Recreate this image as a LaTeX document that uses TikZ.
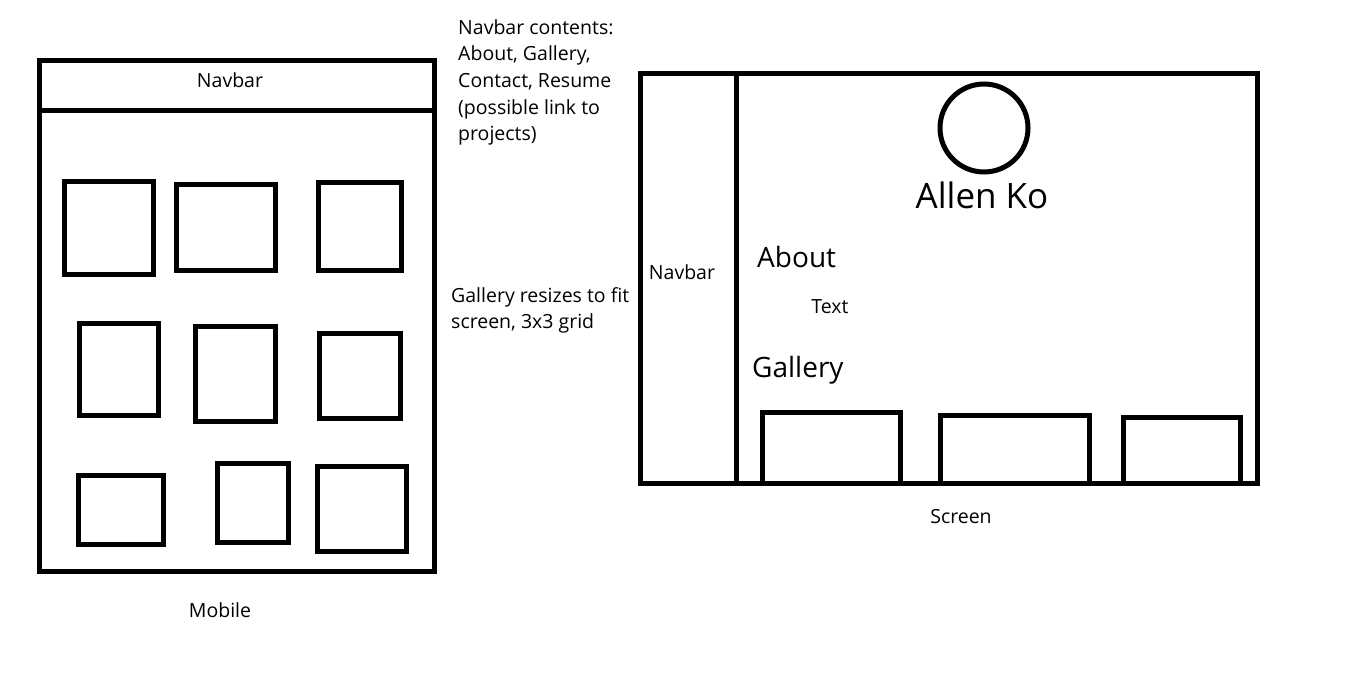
\documentclass[tikz,border=0pt]{standalone}
\usepackage{fontspec}
\setmainfont{Open Sans}
\usetikzlibrary{positioning}

\begin{document}
\begin{tikzpicture}[
    x=1pt, y=-1pt,
    frameBox/.style={draw=black, line width=5pt},
    tileBox/.style={draw=black, line width=5pt},
    noteNode/.style={inner sep=0pt, anchor=north west, align=left, font=\fontsize{19.5}{26.7}\selectfont},
    lblNode/.style={inner sep=0pt, anchor=base, font=\fontsize{19.5}{24}\selectfont},
    headNode/.style={inner sep=0pt, anchor=base west, font=\fontsize{28}{34}\selectfont},
    titleNode/.style={inner sep=0pt, anchor=base, font=\fontsize{35}{42}\selectfont}
]
\useasboundingbox (0,0) rectangle (1364,698);

% Mobile layout
\draw[frameBox] (39,61) rectangle (434,571);
\draw[frameBox] (39,111) -- (434,111);
\node[lblNode] (mNav) at (230,88) {Navbar};
\foreach \xa/\ya/\xb/\yb in {64/181/153/274, 176/184/275/270, 318/182/401/270,
    79/323/158/415, 195/326/275/421, 319/333/400/418,
    78/475/163/544, 217/463/288/542, 317/466/406/551}
    \draw[tileBox] (\xa,\ya) rectangle (\xb,\yb);
\node[lblNode] (mLabel) at (220,617) {Mobile};

% Notes
\node[noteNode] (navNote) at (458,19) {Navbar contents:\\About, Gallery,\\Contact, Resume\\(possible link to\\projects)};
\node[noteNode] (galNote) at (451,287) {Gallery resizes to fit\\screen, 3x3 grid};

% Screen layout
\draw[frameBox] (640,74) rectangle (1257,483);
\draw[frameBox] (736,74) -- (736,483);
\node[lblNode] (sNav) at (682,279) {Navbar};
\draw[frameBox] (984,128) circle[radius=44pt];
\node[titleNode] (name) at (982,208) {Allen Ko};
\node[headNode] (about) at (757,267) {About};
\node[lblNode] (aboutTxt) at (830,313) {Text};
\node[headNode] (gallery) at (752,377) {Gallery};
\foreach \xa/\xb/\yt in {762/900/412, 940/1089/415, 1123/1240/417}
    \draw[tileBox] (\xa,483) |- (\xb,\yt) -- (\xb,483);
\node[lblNode] (sLabel) at (961,523) {Screen};

\end{tikzpicture}
\end{document}
